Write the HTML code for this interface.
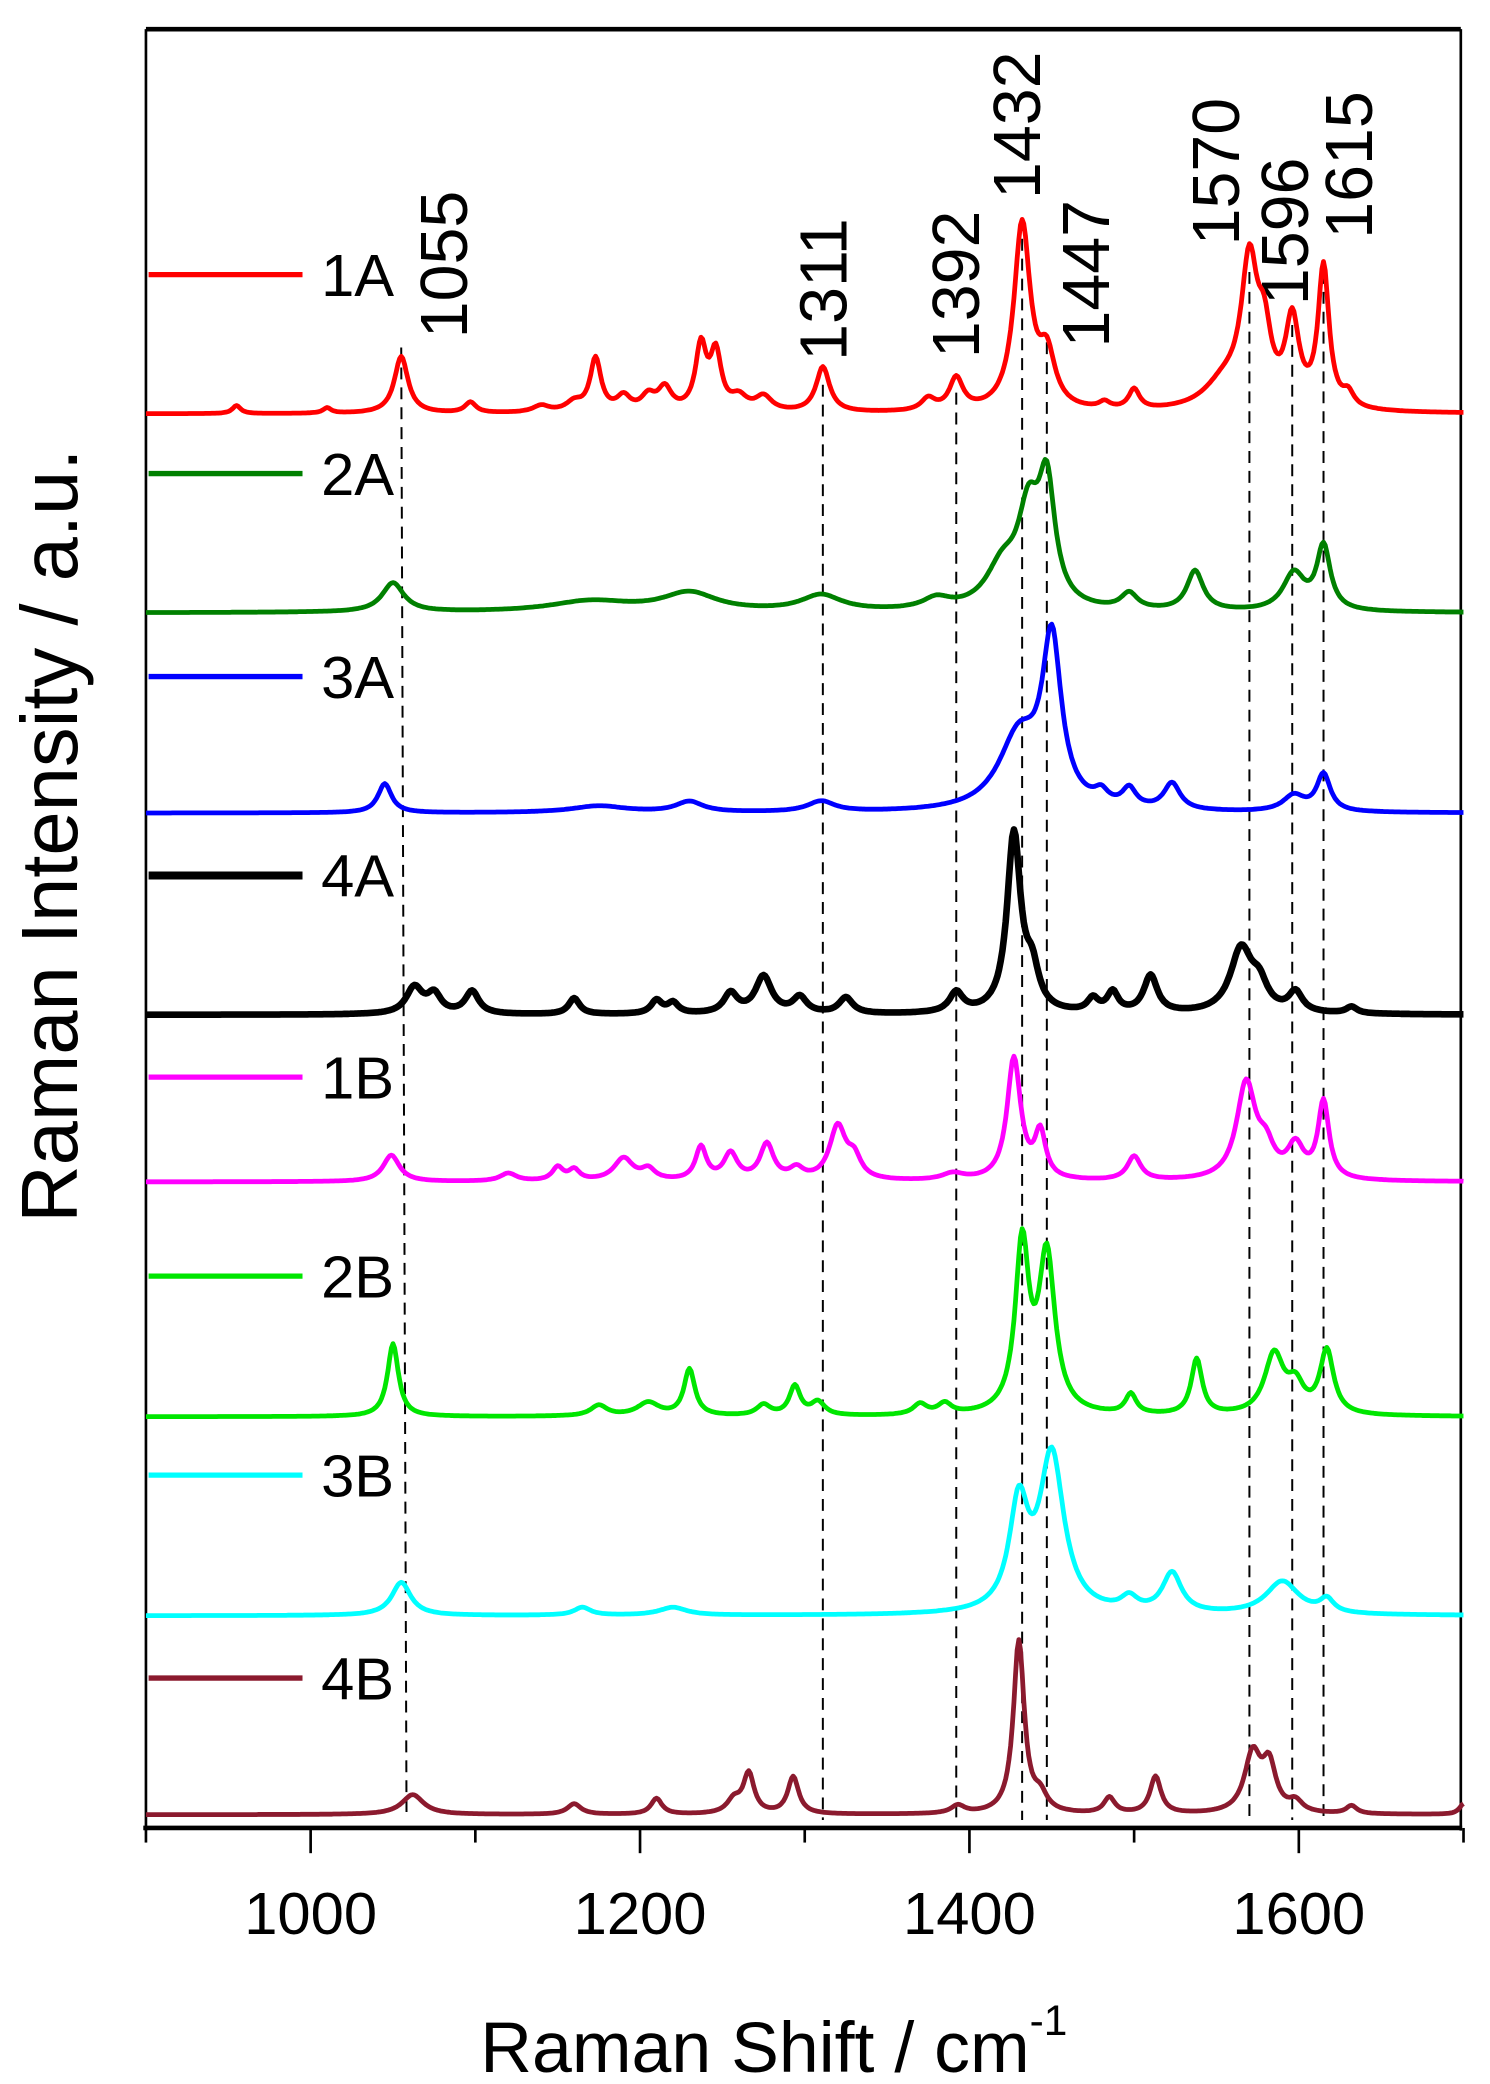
<!DOCTYPE html>
<html><head><meta charset="utf-8"><style>
html,body{margin:0;padding:0;background:#fff;}
svg{display:block;}
text{font-family:"Liberation Sans",sans-serif;}
</style></head><body>
<svg id="chart" width="1490" height="2084" viewBox="0 0 1123 1571" preserveAspectRatio="none" xmlns="http://www.w3.org/2000/svg">
<g id="frame">
<line x1="110" y1="22" x2="1101" y2="22" stroke="#000" stroke-width="3.5"/>
<line x1="110" y1="22" x2="110" y2="1380" stroke="#000" stroke-width="2"/>
<line x1="1101" y1="22" x2="1101" y2="1380" stroke="#000" stroke-width="2"/>
<line x1="108" y1="1378" x2="1102" y2="1378" stroke="#000" stroke-width="3.5"/>
</g>
<g id="ticks"></g>
<g id="dashes"></g>
<g id="series"></g>
<g id="legend"></g>
<text x="362" y="1562" font-size="54">Raman Shift / cm<tspan dy="-28" font-size="32">-1</tspan></text>
<text transform="translate(58,630) rotate(-90)" text-anchor="middle" font-size="60">Raman Intensity / a.u.</text>
</svg>
<script>
const NS='http://www.w3.org/2000/svg';
const xTicks=[1000,1200,1400,1600];
const xMinor=[900,1100,1300,1500,1700];
const names=['1A','2A','3A','4A','1B','2B','3B','4B'];
const colors=['#ff0000','#008000','#0000ff','#000000','#ff00ff','#00e600','#00ffff','#8b1a2e'];
const baselines=[312,462,613,765,891,1068,1218,1368];
const legendY=[207,357,510,660,812,962,1112,1265];
// peaks: [center cm-1, height, half-width]
const p1A=[[955,6,3],[1010,4,3],[1055,43,5],[1097,8,4],[1140,5,6],[1160,7,6],[1173,40,4],[1190,11,5],[1205,11,5],[1215,17,5],[1237,48,4],[1246,42,4],[1260,10,6],[1275,11,6],[1311,34,5],[1375,9,5],[1392,24,5],[1432,140,6],[1447,38,6],[1482,5,4],[1500,15,4],[1555,20,15],[1570,104,6],[1579,45,5],[1596,64,5],[1615,106,4],[1630,10,4]];
const p2A=[[1050,22,8],[1170,8,30],[1230,14,20],[1310,12,15],[1380,8,10],[1420,30,12],[1436,66,8],[1447,86,6],[1497,12,6],[1537,30,6],[1597,28,8],[1615,48,5]];
const p3A=[[1045,22,5],[1175,5,20],[1230,8,10],[1310,8,10],[1430,55,15],[1450,122,7],[1480,9,5],[1497,14,5],[1523,20,6],[1597,12,8],[1615,28,5]];
const p4A=[[1063,20,6],[1075,14,5],[1098,17,5],[1160,12,4],[1210,10,4],[1220,8,4],[1255,15,5],[1275,28,6],[1297,12,5],[1325,12,5],[1392,15,5],[1427,134,5],[1438,28,5],[1475,10,4],[1487,15,4],[1510,28,5],[1565,48,8],[1576,18,6],[1598,15,5],[1632,5,4]];
const p1B=[[1049,20,6],[1120,6,6],[1150,10,4],[1160,8,4],[1190,17,7],[1205,8,5],[1237,25,4],[1255,20,5],[1277,27,5],[1295,8,5],[1320,40,6],[1330,15,5],[1390,5,8],[1427,92,5],[1443,34,4],[1500,18,5],[1568,72,7],[1580,20,6],[1598,24,6],[1615,58,4]];
const p2B=[[1050,55,4],[1175,8,6],[1205,10,8],[1230,35,4],[1275,8,5],[1294,22,4],[1308,10,5],[1370,8,5],[1385,8,5],[1432,125,5],[1447,118,6],[1498,15,4],[1538,42,4],[1585,45,7],[1598,20,6],[1617,48,5]];
const p3B=[[1055,25,7],[1165,6,6],[1220,6,10],[1430,78,7],[1450,118,9],[1497,10,6],[1523,30,7],[1590,25,12],[1617,10,5]];
const p4B=[[1062,15,8],[1160,8,5],[1210,12,4],[1257,10,5],[1266,30,4],[1293,28,4],[1393,6,5],[1430,130,4],[1443,12,5],[1485,12,4],[1513,28,4],[1572,44,6],[1582,34,5],[1598,8,5],[1632,6,4],[1700,8,3]];
const peakSets=[p1A,p2A,p3A,p4A,p1B,p2B,p3B,p4B];
const markPos=[1055,1311,1392,1432,1447,1570,1596,1615];
const markTop=[262,290,296,165,258,205,245,205];
const labelY=[255,272,270,150,262,185,230,180];
const labelX=[352,638,738,784,836,934,986,1034];

function X(v){return 110+(v-900)*1.2413;}
const tg=document.getElementById('ticks');
xTicks.forEach(t=>{
 const l=document.createElementNS(NS,'line');
 
 
 l.setAttribute('x1',X(t));l.setAttribute('x2',X(t));l.setAttribute('y1',1378);l.setAttribute('y2',1397);
 l.setAttribute('stroke','#000');l.setAttribute('stroke-width','2');tg.appendChild(l);
 const tx=document.createElementNS(NS,'text');
 
 
 tx.setAttribute('x',X(t));tx.setAttribute('y',1458);tx.setAttribute('text-anchor','middle');tx.setAttribute('font-size','45');
 tx.textContent=t;tg.appendChild(tx);
});
xMinor.forEach(t=>{
 const l=document.createElementNS(NS,'line');
 
 
 l.setAttribute('x1',X(t));l.setAttribute('x2',X(t));l.setAttribute('y1',1378);l.setAttribute('y2',1389);
 l.setAttribute('stroke','#000');l.setAttribute('stroke-width','2');tg.appendChild(l);
});
const dg=document.getElementById('dashes');
markPos.forEach((m,i)=>{
 const l=document.createElementNS(NS,'line');
 
 
 l.setAttribute('x1',X(m));l.setAttribute('x2',X(m)+(i==0?4:0));l.setAttribute('y1',markTop[i]);l.setAttribute('y2',1372);
 l.setAttribute('stroke','#000');l.setAttribute('stroke-width','1.5');l.setAttribute('stroke-dasharray','9,6');dg.appendChild(l);
 const tx=document.createElementNS(NS,'text');
 
 
 tx.setAttribute('transform','translate('+labelX[i]+','+labelY[i]+') rotate(-90)');
 tx.setAttribute('font-size','50');
 tx.textContent=m;dg.appendChild(tx);
});
const sg=document.getElementById('series'),lg=document.getElementById('legend');
peakSets.forEach((ps,k)=>{
 let d='';
 for(let v=900;v<=1700;v+=1){
  let y=0;
  ps.forEach(p=>{const u=(v-p[0])/p[2];y+=p[1]/(1+u*u);});
  d+=(v==900?'M':'L')+X(v).toFixed(1)+','+(baselines[k]-y).toFixed(1);
 }
 const path=document.createElementNS(NS,'path');
 
 
 path.setAttribute('d',d);path.setAttribute('fill','none');path.setAttribute('stroke',colors[k]);
 path.setAttribute('stroke-width',k==3?'5':'3.6');path.setAttribute('stroke-linejoin','round');
 sg.appendChild(path);
 const l=document.createElementNS(NS,'line');
 
 
 l.setAttribute('x1',112);l.setAttribute('x2',228);l.setAttribute('y1',legendY[k]);l.setAttribute('y2',legendY[k]);
 l.setAttribute('stroke',colors[k]);l.setAttribute('stroke-width',k==3?'6':'4');lg.appendChild(l);
 const tx=document.createElementNS(NS,'text');
 
 
 tx.setAttribute('x',242);tx.setAttribute('y',legendY[k]+16);tx.setAttribute('font-size','45');
 tx.textContent=names[k];lg.appendChild(tx);
});
</script>
</body></html>
